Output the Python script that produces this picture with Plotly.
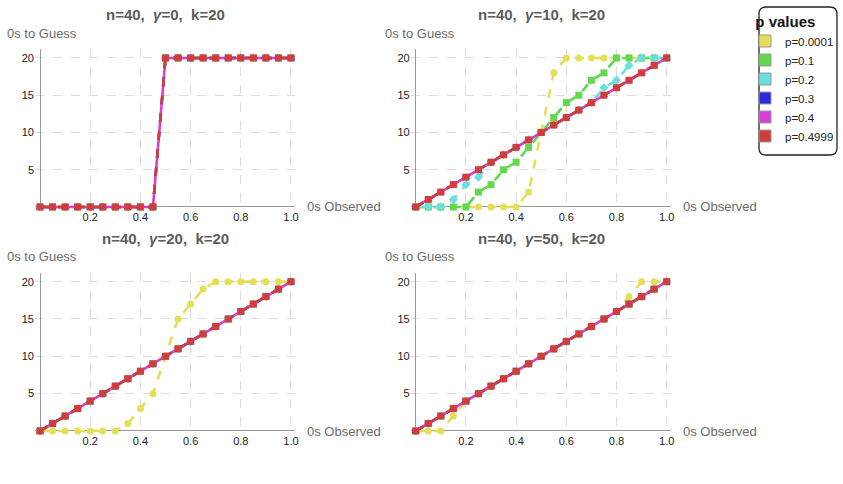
import plotly.graph_objects as go

# ---------------- data ----------------
x_obs = [0.0, 0.05, 0.1, 0.15, 0.2, 0.25, 0.3, 0.35, 0.4, 0.45, 0.5,
         0.55, 0.6, 0.65, 0.7, 0.75, 0.8, 0.85, 0.9, 0.95, 1.0]

p_labels = ["p=0.0001", "p=0.1", "p=0.2", "p=0.3", "p=0.4", "p=0.4999"]
p_colors = ["#E4E055", "#62D84E", "#6ADFE0", "#2C2CD6", "#D63ED8", "#D23C3C"]
p_symbols = ["circle", "square", "diamond", "triangle-up", "triangle-down", "square"]
p_dash = ["dash", "dash", "dash", "dash", "solid", "dash"]

panel_titles = ["n=40,  <i>γ</i>=0,  k=20", "n=40,  <i>γ</i>=10,  k=20",
                "n=40,  <i>γ</i>=20,  k=20", "n=40,  <i>γ</i>=50,  k=20"]

step = [0, 0, 0, 0, 0, 0, 0, 0, 0, 0, 20, 20, 20, 20, 20, 20, 20, 20, 20, 20, 20]
linear = [0, 1, 2, 3, 4, 5, 6, 7, 8, 9, 10, 11, 12, 13, 14, 15, 16, 17, 18, 19, 20]

g0 = [step, step, step, step, step, step]
g10_p0001 = [0, 0, 0, 0, 0, 0, 0, 0, 0, 2, 10, 18, 20, 20, 20, 20, 20, 20, 20, 20, 20]
g10_p01 = [0, 0, 0, 0, 0, 2, 3, 5, 6, 8, 10, 12, 14, 15, 17, 18, 20, 20, 20, 20, 20]
g10_p02 = [0, 0, 0, 1, 3, 4, 6, 7, 8, 9, 10, 11, 12, 13, 14, 16, 17, 19, 20, 20, 20]
g10 = [g10_p0001, g10_p01, g10_p02, linear, linear, linear]
g20_p0001 = [0, 0, 0, 0, 0, 0, 0, 1, 3, 5, 10, 15, 17, 19, 20, 20, 20, 20, 20, 20, 20]
g20 = [g20_p0001, linear, linear, linear, linear, linear]
g50_p0001 = [0, 0, 0, 2, 4, 5, 6, 7, 8, 9, 10, 11, 12, 13, 14, 15, 16, 18, 20, 20, 20]
g50 = [g50_p0001, linear, linear, linear, linear, linear]

panels = [g0, g10, g20, g50]

# ---------------- layout geometry ----------------
W, H = 843, 484
x_range = [-0.02, 1.016]
y_range = [-0.3, 21.2]
x_doms = [[35 / W, 295 / W], [410.7 / W, 670.7 / W]]
y_doms = [[(H - 209.2) / H, (H - 49) / H], [(H - 433.2) / H, (H - 272.7) / H]]
FONT = "Liberation Sans, Arial"

fig = go.Figure()
annotations = []
gray_txt = "#6b6b6b"

for i, data in enumerate(panels):
    row, col = divmod(i, 2)
    ax = "" if i == 0 else str(i + 1)
    xa, ya = "x" + ax, "y" + ax
    for j in range(6):
        fig.add_trace(go.Scatter(
            x=x_obs, y=data[j], xaxis=xa, yaxis=ya, mode="lines+markers",
            line=dict(color=p_colors[j], width=2.6, dash=p_dash[j]),
            marker=dict(color=p_colors[j], symbol=p_symbols[j], size=7),
            cliponaxis=False, showlegend=False, hoverinfo="skip"))
    axis_common = dict(showline=False, zeroline=True, zerolinecolor="#9a9a9a",
                       zerolinewidth=1, showgrid=True, gridcolor="#dcdcdc",
                       griddash="dash", gridwidth=1,
                       tickfont=dict(family=FONT, size=11, color="#222"),
                       ticks="", fixedrange=True)
    fig.update_layout(**{
        ("xaxis" + ax): dict(domain=x_doms[col], range=x_range, anchor=ya,
                             tickvals=[0.2, 0.4, 0.6, 0.8, 1.0],
                             ticktext=["0.2", "0.4", "0.6", "0.8", "1.0"], **axis_common),
        ("yaxis" + ax): dict(domain=y_doms[row], range=y_range, anchor=xa,
                             tickvals=[5, 10, 15, 20], **axis_common),
    })
    cx = (165 if col == 0 else 541) / W
    ty = (H - (15 if row == 0 else 238)) / H
    annotations.append(dict(text="<b>" + panel_titles[i] + "</b>", x=cx, y=ty,
                            xref="paper", yref="paper", xanchor="center", yanchor="middle",
                            showarrow=False,
                            font=dict(family=FONT, size=15, color="#5c5c5c")))
    lx = (5 if col == 0 else 383) / W
    ly = (H - (33 if row == 0 else 256.7)) / H
    annotations.append(dict(text="0s to Guess", x=lx, y=ly, xref="paper", yref="paper",
                            xanchor="left", yanchor="middle", showarrow=False,
                            font=dict(family=FONT, size=13, color=gray_txt)))
    ox = (305 if col == 0 else 681) / W
    oy = (H - (207 if row == 0 else 431)) / H
    annotations.append(dict(text="0s Observed", x=ox, y=oy, xref="paper", yref="paper",
                            xanchor="left", yanchor="middle", showarrow=False,
                            font=dict(family=FONT, size=13, color=gray_txt)))

for j in range(6):
    fig.add_trace(go.Scatter(
        x=[None], y=[None], mode="markers", name=p_labels[j],
        marker=dict(color=p_colors[j], symbol="square", size=12,
                    line=dict(color="#999999", width=1)),
        showlegend=True))

x0, x1, y0, y1, r = 759, 837, 7, 155, 7
path = (f"M {x0+r},{y0} L {x1-r},{y0} Q {x1},{y0} {x1},{y0+r} "
        f"L {x1},{y1-r} Q {x1},{y1} {x1-r},{y1} L {x0+r},{y1} Q {x0},{y1} {x0},{y1-r} "
        f"L {x0},{y0+r} Q {x0},{y0} {x0+r},{y0} Z")


def px_path(p):
    out = []
    for tok in p.split(" "):
        if "," in tok:
            a, b = tok.split(",")
            out.append(f"{float(a)/W:.5f},{(H-float(b))/H:.5f}")
        else:
            out.append(tok)
    return " ".join(out)


fig.update_layout(
    width=W, height=H, margin=dict(l=0, r=0, t=0, b=0, autoexpand=False), autosize=False,
    paper_bgcolor="white", plot_bgcolor="white",
    annotations=annotations,
    shapes=[dict(type="path", path=px_path(path), xref="paper", yref="paper",
                 line=dict(color="#222", width=1.3), fillcolor="rgba(0,0,0,0)")],
    legend=dict(x=745 / W, y=(H - 7) / H, xref="container", yref="container",
                xanchor="left", yanchor="top",
                bgcolor="rgba(0,0,0,0)", borderwidth=0,
                title=dict(text="<b>&nbsp;&nbsp;p values</b>", side="top",
                           font=dict(family=FONT, size=15, color="#111")),
                font=dict(family=FONT, size=11.5, color="#222"),
                itemwidth=30, tracegroupgap=0),
)

fig.write_html("out.html")
